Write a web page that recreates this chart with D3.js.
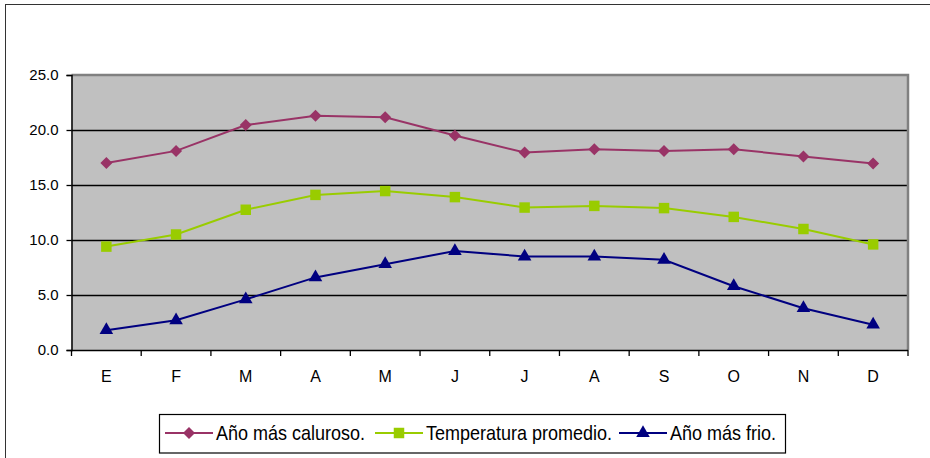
<!DOCTYPE html>
<html><head><meta charset="utf-8">
<script src="https://cdn.jsdelivr.net/npm/d3@7"></script>
<style>body{margin:0;background:#fff}svg{display:block}text{font-family:"Liberation Sans",Arial,sans-serif}</style>
</head><body>
<script>
const months = ["E","F","M","A","M","J","J","A","S","O","N","D"];
const hotYear = [17.0,18.1,20.45,21.3,21.15,19.5,17.95,18.25,18.1,18.25,17.6,16.95];
const avgTemp = [9.4,10.5,12.75,14.1,14.45,13.9,12.95,13.1,12.9,12.1,11.0,9.6];
const coldYear = [1.8,2.7,4.6,6.6,7.8,9.0,8.5,8.5,8.2,5.8,3.8,2.3];
const yTicks = [0,5,10,15,20,25];
const seriesNames = ["Año más caluroso.","Temperatura promedio.","Año más frio."];

const W=930,H=458;
const svg=d3.select("body").append("svg").attr("width",W).attr("height",H);
svg.append("rect").attr("x",5.5).attr("y",4.5).attr("width",940).attr("height",480).attr("fill","#fff").attr("stroke","#333").attr("stroke-width",1);

const L=71.5,R=908,T=75,B=350;
const x=d3.scaleBand().domain(d3.range(12)).range([L,R]);
const y=d3.scaleLinear().domain([0,25]).range([B,T]);

svg.append("rect").attr("x",L).attr("y",T).attr("width",R-L).attr("height",B-T).attr("fill","#c0c0c0");
svg.append("g").selectAll("line").data(yTicks.filter(v=>v>0&&v<25)).join("line")
 .attr("x1",L).attr("x2",R).attr("y1",d=>Math.round(y(d))+0.5).attr("y2",d=>Math.round(y(d))+0.5)
 .attr("stroke","#000").attr("stroke-width",1.3);
svg.append("path").attr("d",`M${L},${T}H${R}V${B}`).attr("fill","none").attr("stroke","#808080").attr("stroke-width",2.5);

const yAxis=d3.axisLeft(y).tickValues(yTicks).tickFormat(d3.format(".1f")).tickSize(5).tickPadding(8);
const gy=svg.append("g").attr("transform",`translate(${L},0)`).call(yAxis);
gy.select(".domain").attr("stroke","#000").attr("stroke-width",1.5);
gy.selectAll(".tick line").attr("stroke","#000").attr("stroke-width",1.3);
gy.selectAll("text").attr("font-size",15).attr("fill","#000").attr("font-family",'"Liberation Sans",Arial,sans-serif');

const gx=svg.append("g").attr("transform",`translate(0,${B})`);
gx.append("line").attr("x1",L).attr("x2",R).attr("y1",0.5).attr("y2",0.5).attr("stroke","#000").attr("stroke-width",1.5);
gx.selectAll("line.tk").data(d3.range(13)).join("line").attr("class","tk")
 .attr("x1",i=>i<12?x(i):R).attr("x2",i=>i<12?x(i):R).attr("y1",0).attr("y2",6).attr("stroke","#000").attr("stroke-width",1.3);
gx.selectAll("text").data(months).join("text")
 .attr("x",(d,i)=>x(i)+x.bandwidth()/2).attr("y",32).attr("text-anchor","middle").attr("font-size",16).text(d=>d);

const series=[
 {name:seriesNames[0],data:hotYear,color:"#993366",marker:"diamond"},
 {name:seriesNames[1],data:avgTemp,color:"#99cc00",marker:"square"},
 {name:seriesNames[2],data:coldYear,color:"#000080",marker:"triangle"}];
const sym={diamond:d3.symbol().type(d3.symbolSquare).size(72),
 square:d3.symbol().type(d3.symbolSquare).size(110),
 triangle:d3.symbol().type(d3.symbolTriangle).size(80)};
const rot={diamond:45,square:0,triangle:0};
const line=d3.line().x((d,i)=>x(i)+x.bandwidth()/2).y(d=>y(d));
series.forEach(s=>{
 svg.append("path").attr("d",line(s.data)).attr("fill","none").attr("stroke",s.color).attr("stroke-width",2);
 svg.append("g").selectAll("path").data(s.data).join("path")
  .attr("transform",(d,i)=>`translate(${x(i)+x.bandwidth()/2},${y(d)}) rotate(${rot[s.marker]})`)
  .attr("d",sym[s.marker]()).attr("fill",s.color);
});

// legend
const lg=svg.append("g");
lg.append("rect").attr("x",159.5).attr("y",414.5).attr("width",626).attr("height",38.5).attr("fill","#fff").attr("stroke","#000").attr("stroke-width",1.2);
const lx=[165,375,619];
series.forEach((s,i)=>{
 const g=lg.append("g").attr("transform",`translate(${lx[i]},433)`);
 g.append("line").attr("x1",0).attr("x2",48).attr("stroke",s.color).attr("stroke-width",2);
 g.append("path").attr("transform",`translate(24,0) rotate(${rot[s.marker]})`).attr("d",sym[s.marker]()).attr("fill",s.color);
 g.append("text").attr("transform","translate(51,7) scale(0.9,1)").attr("font-size",20).attr("fill","#000").text(s.name);
});
</script>
</body></html>
